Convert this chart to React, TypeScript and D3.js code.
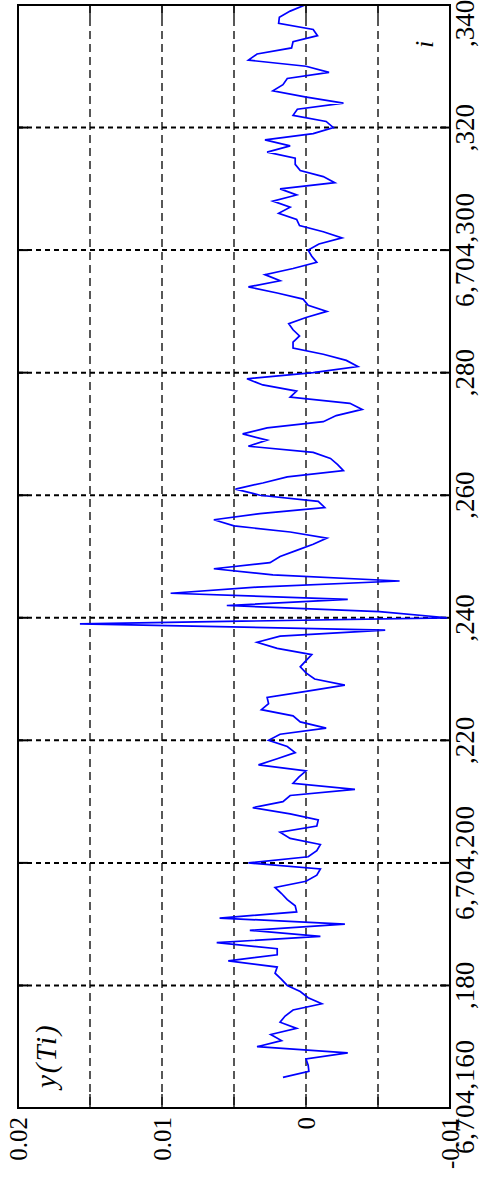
import * as d3 from "d3";

// i index of each sample and y(Ti) value
const iIndex: number[] = d3.range(165, 341);
const yTi: number[] = [
  0.0016, -0.0002, -0.00015, 0, -0.0029, 0.0034, 0.0017, 0.00245, 0.00065, 0.0018,
  0.00145, 0.0009, -0.0011, -0.00015, 0.0004, 0.0013, 0.0017, 0.00215, 0.002, 0.0054,
  0.002, 0.002, 0.0062, -0.001, 0.0039, -0.0027, 0.006, 0.00065, 0.00075, 0.0013,
  0.0017, 0.00215, 0, -0.00075, -0.001, 0.004, -0.00015, -0.00075, -0.001, 0.0011,
  0.0018, -0.00075, -0.00085, 0.0011, 0.0037, 0.0016, 0.0011, -0.0034, 0.0009, 0.0005,
  0, 0.0033, 0.002, 0.00075, 0.0013, 0.0026, 0.0018, -0.0014, 0.0004, 0.0009,
  0.0031, 0.0026, 0.0027, 0, -0.0027, -0.0006, 0, 0.0004, 0, -0.0004,
  0.002, 0.0034, 0.0018, -0.0055, 0.0157, -0.0098, -0.0051, 0.0055, -0.0029, 0.0094,
  0.0034, -0.0065, 0.0023, 0.0064, 0.0025, 0.0018, 0.00065, -0.0005, -0.00145, 0.0011,
  0.005, 0.0064, 0.0032, -0.0013, -0.00085, 0.0032, 0.0049, 0.003, 0.0013, -0.0026,
  -0.0022, -0.0017, -0.0005, 0.004, 0.0027, 0.0044, 0.0027, -0.0012, -0.0021, -0.0039,
  -0.00305, 0.0011, 0.00065, 0.003, 0.0041, -0.0005, -0.0036, -0.0028, -0.0012, 0.0009,
  0.0009, 0.00045, 0.0009, 0.0012, 0, -0.00145, -0.00015, 0.0002, 0.002, 0.004,
  0.0018, 0.00285, 0.0009, -0.00075, -0.0004, -0.00015, -0.0009, -0.0025, -0.0012, 0.00045,
  0.00065, 0.0019, 0.0011, 0.0023, 0.00065, 0.0018, -0.002, -0.0012, 0.0004, 0.00075,
  0.00075, 0.0027, 0.0011, 0.00285, -0.0005, -0.0019, -0.0014, 0.0009, 0.0006, -0.0026,
  0.00007, 0.0023, 0.0016, 0.0013, -0.0016, 0, 0.004, 0.0034, 0.001, 0.0009,
  -0.0008, -0.0005, 0.0019, 0.00185, 0.0011, 0.00007,
];

const valueTicks = [0.02, 0.01, 0, -0.01];
const valueTickLabels = ["0.02", "0.01", "0", "-0.01"];
const valueGrid = [0.015, 0.01, 0.005, 0, -0.005];
const iTicks = [160, 180, 200, 220, 240, 260, 280, 300, 320, 340];
const iTickLabels = [
  "6,704,160", ",180", "6,704,200", ",220", ",240",
  ",260", ",280", "6,704,300", ",320", ",340",
];

const W = 481;
const H = 1179;
const left = 18;
const right = 450;
const top = 5;
const bottom = 1108;

export default function App() {
  // chart is drawn rotated: value axis runs horizontally, i runs upward
  const x = d3.scaleLinear().domain([0.02, -0.01]).range([left, right]);
  const y = d3.scaleLinear().domain([160, 340]).range([bottom, top]);

  const line = d3
    .line<number>()
    .x((d) => x(d))
    .y((_, k) => y(iIndex[k]));

  const serif = "'Liberation Serif', 'Times New Roman', serif";

  return (
    <svg
      width={W}
      height={H}
      style={{ position: "absolute", left: 0, top: 0, background: "#fff" }}
    >
      <rect x={0} y={0} width={W} height={H} fill="#fff" />

      {/* value gridlines */}
      {valueGrid.map((v) => (
        <line
          key={"vg" + v}
          x1={x(v)}
          x2={x(v)}
          y1={top}
          y2={bottom}
          stroke="#111"
          strokeWidth={1.4}
          strokeDasharray="8,5"
        />
      ))}
      {valueGrid.map((v) => (
        <g key={"vt" + v}>
          <line x1={x(v)} x2={x(v)} y1={bottom - 14} y2={bottom} stroke="#111" strokeWidth={1.4} />
          <line x1={x(v)} x2={x(v)} y1={top} y2={top + 13} stroke="#111" strokeWidth={1.4} />
        </g>
      ))}

      {/* i gridlines */}
      {iTicks.slice(1, -1).map((t) => (
        <g key={"ig" + t}>
          <line
            x1={left}
            x2={right}
            y1={y(t)}
            y2={y(t)}
            stroke="#000"
            strokeWidth={2}
            strokeDasharray="5,4"
          />
          <line x1={right - 10} x2={right} y1={y(t)} y2={y(t)} stroke="#000" strokeWidth={2} />
          <line x1={left} x2={left + 10} y1={y(t)} y2={y(t)} stroke="#000" strokeWidth={2} />
        </g>
      ))}

      <path d={line(yTi) ?? ""} fill="none" stroke="#0000ff" strokeWidth={1.7} />

      <rect
        x={left}
        y={top}
        width={right - left}
        height={bottom - top}
        fill="none"
        stroke="#000"
        strokeWidth={2}
      />

      {/* value tick labels */}
      {valueTicks.map((v, k) => (
        <text
          key={"vl" + v}
          transform={`translate(${x(v)},1117) rotate(-90)`}
          textAnchor="end"
          dy="0.35em"
          fontFamily={serif}
          fontSize={25}
          fill="#000"
        >
          {valueTickLabels[k]}
        </text>
      ))}

      {/* i tick labels */}
      {iTicks.map((t, k) => {
        let ty = y(t);
        let anchor = "middle";
        if (k === 0) {
          ty = 1040;
          anchor = "end";
        } else if (k === iTicks.length - 1) {
          ty = 47;
          anchor = "start";
        }
        const long = iTickLabels[k].length > 5;
        return (
          <text
            key={"il" + t}
            transform={`translate(474,${ty}) rotate(-90)`}
            textAnchor={anchor}
            fontFamily={serif}
            fontSize={27}
            fill="#000"
            textLength={long ? 114 : undefined}
            lengthAdjust="spacing"
          >
            {iTickLabels[k]}
          </text>
        );
      })}

      <text
        transform="translate(56,1088) rotate(-90)"
        textAnchor="start"
        fontFamily={serif}
        fontStyle="italic"
        fontSize={29}
        letterSpacing={2}
        fill="#000"
      >
        y(Ti)
      </text>
      <text
        transform="translate(433,48) rotate(-90)"
        textAnchor="start"
        fontFamily={serif}
        fontStyle="italic"
        fontSize={26}
        fill="#000"
      >
        i
      </text>
    </svg>
  );
}
